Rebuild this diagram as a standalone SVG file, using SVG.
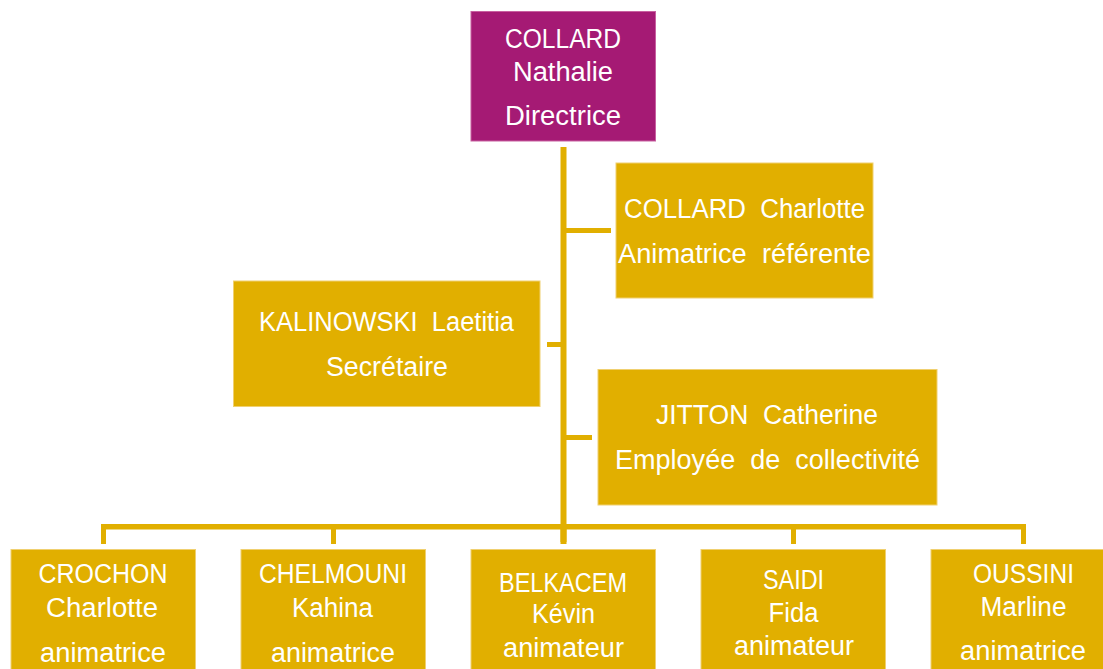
<svg xmlns="http://www.w3.org/2000/svg" width="1103" height="669" viewBox="0 0 1103 669" xml:space="preserve">
<style>
.box{fill:#E1AF00;stroke:#F0D070;stroke-width:1}
.top{fill:#A51A74;stroke:#C860A0;stroke-width:1}
.t{font-family:"Liberation Sans",Arial,sans-serif;font-size:27px;fill:#FFFFFF;text-anchor:middle;white-space:pre}
.ln{fill:#E1AF00}
</style>
<rect width="1103" height="669" fill="#FFFFFF"/>
<g id="connectors">
<rect class="ln" x="560.5" y="147" width="6" height="395"/>
<rect class="ln" x="566" y="228" width="45" height="5"/>
<rect class="ln" x="547" y="342" width="14" height="5"/>
<rect class="ln" x="566" y="435" width="26" height="5"/>
<rect class="ln" x="101" y="524" width="925" height="5.5"/>
<rect class="ln" x="101" y="524" width="5" height="20"/>
<rect class="ln" x="331" y="524" width="5" height="20"/>
<rect class="ln" x="560.5" y="524" width="6" height="20"/>
<rect class="ln" x="791" y="524" width="5" height="20"/>
<rect class="ln" x="1021" y="524" width="5" height="20"/>
</g>
<g id="node-collard-nathalie">
<rect class="top" x="471" y="11.5" width="184.5" height="129.5"/>
<text class="t" x="563" y="48" textLength="116" lengthAdjust="spacingAndGlyphs">COLLARD</text>
<text class="t" x="563" y="81" textLength="100" lengthAdjust="spacingAndGlyphs">Nathalie</text>
<text class="t" x="563" y="125" textLength="116" lengthAdjust="spacingAndGlyphs">Directrice</text>
</g>
<g id="node-collard-charlotte">
<rect class="box" x="616" y="163" width="257" height="135"/>
<text class="t" x="744.5" y="218" textLength="241" lengthAdjust="spacingAndGlyphs">COLLARD&#160; Charlotte</text>
<text class="t" x="744.5" y="263" textLength="253" lengthAdjust="spacingAndGlyphs">Animatrice&#160; référente</text>
</g>
<g id="node-kalinowski">
<rect class="box" x="233.5" y="281" width="306.5" height="125.5"/>
<text class="t" x="386.5" y="331" textLength="255" lengthAdjust="spacingAndGlyphs">KALINOWSKI&#160; Laetitia</text>
<text class="t" x="387" y="376" textLength="122" lengthAdjust="spacingAndGlyphs">Secrétaire</text>
</g>
<g id="node-jitton">
<rect class="box" x="598" y="369.5" width="339" height="135.5"/>
<text class="t" x="767" y="424" textLength="222" lengthAdjust="spacingAndGlyphs">JITTON&#160; Catherine</text>
<text class="t" x="767.5" y="469" textLength="305" lengthAdjust="spacingAndGlyphs">Employée&#160; de&#160; collectivité</text>
</g>
<g id="node-crochon">
<rect class="box" x="11" y="549.5" width="184.5" height="125"/>
<text class="t" x="103" y="583" textLength="129" lengthAdjust="spacingAndGlyphs">CROCHON</text>
<text class="t" x="102" y="617" textLength="112" lengthAdjust="spacingAndGlyphs">Charlotte</text>
<text class="t" x="103" y="662" textLength="126" lengthAdjust="spacingAndGlyphs">animatrice</text>
</g>
<g id="node-chelmouni">
<rect class="box" x="241" y="549.5" width="184.5" height="125"/>
<text class="t" x="333" y="583" textLength="148" lengthAdjust="spacingAndGlyphs">CHELMOUNI</text>
<text class="t" x="332.5" y="617" textLength="81" lengthAdjust="spacingAndGlyphs">Kahina</text>
<text class="t" x="333" y="662" textLength="124" lengthAdjust="spacingAndGlyphs">animatrice</text>
</g>
<g id="node-belkacem">
<rect class="box" x="471" y="549.5" width="184.5" height="125"/>
<text class="t" x="563" y="591.5" textLength="128" lengthAdjust="spacingAndGlyphs">BELKACEM</text>
<text class="t" x="563.5" y="623" textLength="63" lengthAdjust="spacingAndGlyphs">Kévin</text>
<text class="t" x="563.5" y="657" textLength="121" lengthAdjust="spacingAndGlyphs">animateur</text>
</g>
<g id="node-saidi">
<rect class="box" x="701" y="549.5" width="184.5" height="125"/>
<text class="t" x="793.5" y="589" textLength="61" lengthAdjust="spacingAndGlyphs">SAIDI</text>
<text class="t" x="793.5" y="622" textLength="50" lengthAdjust="spacingAndGlyphs">Fida</text>
<text class="t" x="794" y="655" textLength="120" lengthAdjust="spacingAndGlyphs">animateur</text>
</g>
<g id="node-oussini">
<rect class="box" x="931" y="549.5" width="184.5" height="125"/>
<text class="t" x="1023.5" y="583" textLength="101" lengthAdjust="spacingAndGlyphs">OUSSINI</text>
<text class="t" x="1023.5" y="616" textLength="86" lengthAdjust="spacingAndGlyphs">Marline</text>
<text class="t" x="1023" y="660" textLength="126" lengthAdjust="spacingAndGlyphs">animatrice</text>
</g>
</svg>
